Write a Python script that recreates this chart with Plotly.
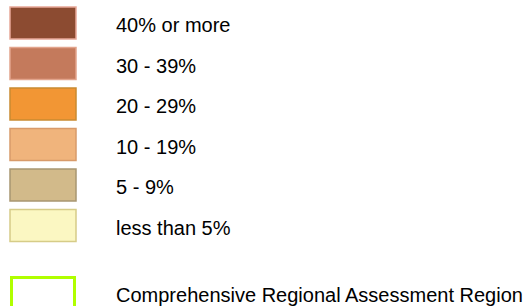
import plotly.graph_objects as go

labels = ["40% or more", "30 - 39%", "20 - 29%", "10 - 19%", "5 - 9%", "less than 5%"]
fills = ["#8C4B31", "#C47A5C", "#F29634", "#F0B47C", "#D2BA8A", "#FBF7C2"]
borders = ["#E8A898", "#E2A48C", "#C98A30", "#D89A6A", "#A89672", "#D6CC88"]
region_label = "Comprehensive Regional Assessment Region"
region_color = "#B0FF00"

W, H = 528, 306
BOX_X0, BOX_X1 = 10, 76
ROW_Y0, ROW_PITCH, BOX_H = 7, 40.5, 32
TEXT_X = 115
FONT = dict(family="Arial, Liberation Sans, sans-serif", size=20, color="#000000")

fig = go.Figure()
shapes = []
annotations = []
for i, (lab, fc, bc) in enumerate(zip(labels, fills, borders)):
    y0 = ROW_Y0 + ROW_PITCH * i
    shapes.append(dict(type="rect", xref="x", yref="y", x0=BOX_X0, x1=BOX_X1,
                       y0=y0, y1=y0 + BOX_H, fillcolor=fc,
                       line=dict(color=bc, width=1.5), layer="above"))
    annotations.append(dict(x=TEXT_X, y=y0 + BOX_H / 2 + 2, xref="x", yref="y",
                            text=lab, showarrow=False, xanchor="left",
                            yanchor="middle", font=FONT, borderpad=0))

shapes.append(dict(type="rect", xref="x", yref="y", x0=BOX_X0 + 1.5, x1=BOX_X1 - 1.5,
                   y0=277.5, y1=330, fillcolor="rgba(0,0,0,0)",
                   line=dict(color=region_color, width=3)))
annotations.append(dict(x=TEXT_X, y=294.8, xref="x", yref="y", text=region_label,
                        showarrow=False, xanchor="left", yanchor="middle", font=FONT,
                        borderpad=0))

fig.add_trace(go.Scatter(x=[0], y=[0], mode="markers", marker=dict(opacity=0),
                         hoverinfo="skip", showlegend=False))
fig.update_layout(
    width=W, height=H, margin=dict(l=0, r=0, t=0, b=0),
    paper_bgcolor="white", plot_bgcolor="white",
    xaxis=dict(range=[0, W], visible=False, fixedrange=True),
    yaxis=dict(range=[H, 0], visible=False, fixedrange=True),
    shapes=shapes, annotations=annotations, showlegend=False,
)
fig.write_html("out.html", config={"displayModeBar": False},
               post_script="document.body.style.margin='0px';document.body.style.overflow='hidden';")
